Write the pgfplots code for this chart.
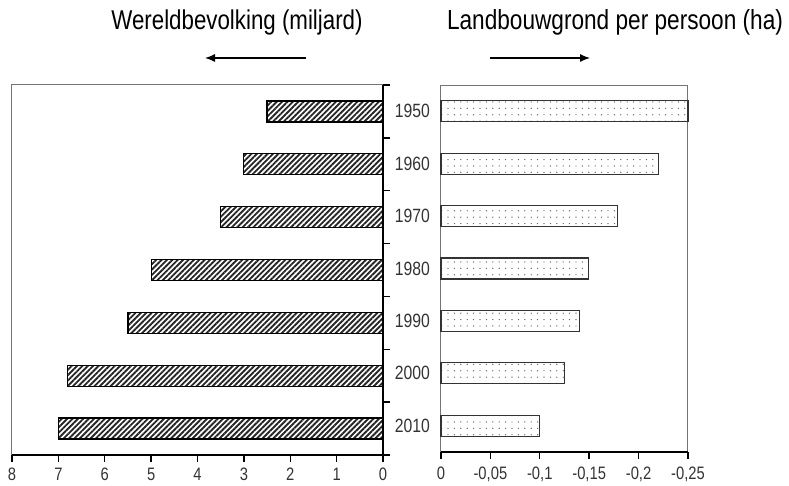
\documentclass[border=0pt]{standalone}
\usepackage{pgfplots}
\pgfplotsset{compat=1.18}
\usepackage{fontspec}
\setmainfont{Liberation Sans}[FakeStretch=0.82]
\usetikzlibrary{patterns.meta,arrows.meta}
\begin{document}
\begin{tikzpicture}[x=1pt,y=1pt]
\useasboundingbox (0,0) rectangle (394.5,243);
\pgfplotsset{
  common/.style={
    scale only axis, anchor=south west,
    axis line style={draw=black!55, line width=0.5pt},
    tick style={black, line width=0.7pt},
    tick align=outside, major tick length=3.5pt,
    ymin=-0.5, ymax=6.5, y dir=reverse,
    xtick pos=bottom,
    /pgf/number format/assume math mode=true,
    tick label style={font=\fontsize{9}{10}\selectfont, text=black!80},
    clip=false,
  }
}
% Left axis: Wereldbevolking
\begin{axis}[common, at={(6pt,15.5pt)}, width=185.5pt, height=185pt,
  x dir=reverse, xmin=0, xmax=8, xtick={0,1,...,8},
  ytick={-0.5,0.5,...,6.5}, yticklabels={}, ytick pos=right,
  xticklabel style={yshift=0.5pt}]
\addplot[xbar, bar width=10.5pt, draw=black, line width=0.6pt,
  pattern={Lines[angle=45, distance=1.9pt, line width=0.95pt]}, pattern color=black!85]
  coordinates {(2.5,0) (3,1) (3.5,2) (5,3) (5.5,4) (6.8,5) (7,6)};
\draw[black, line width=0.9pt] (rel axis cs:1,0) -- (rel axis cs:1,1);
\draw[black, line width=0.9pt] (rel axis cs:0,0) -- (rel axis cs:1,0);
\end{axis}
% Right axis: Landbouwgrond per persoon
\begin{axis}[common, at={(220.5pt,17pt)}, width=123.5pt, height=183.5pt,
  xmin=0, xmax=0.25, xtick={0,0.05,0.1,0.15,0.2,0.25},
  xticklabels={0,{-0,05},{-0,1},{-0,15},{-0,2},{-0,25}},
  xticklabel style={yshift=-0.5pt},
  ytick={0,...,6}, yticklabels={1950,1960,1970,1980,1990,2000,2010},
  ytick pos=left, ytick style={draw=none},
  yticklabel style={xshift=1.5pt, font=\fontsize{9.6}{11}\selectfont}]
\addplot[xbar, bar width=10.5pt, draw=black!80, line width=0.6pt,
  pattern={Dots[radius=0.35pt, distance=3.2pt]}, pattern color=black!60]
  coordinates {(0.25,0) (0.22,1) (0.179,2) (0.149,3) (0.14,4) (0.125,5) (0.1,6)};
\draw[black, line width=0.9pt] (rel axis cs:0,0) -- (rel axis cs:1,0);
\end{axis}
\node[font=\fontsize{13.6}{15}\selectfont] at (118.5,232) {Wereldbevolking (miljard)};
\node[font=\fontsize{13.8}{15}\selectfont] at (307.5,232) {Landbouwgrond per persoon (ha)};
\draw[line width=0.6pt, -{Latex[length=5pt,width=4pt]}] (153,214) -- (102.5,214);
\draw[line width=0.6pt, -{Latex[length=5pt,width=4pt]}] (245,214) -- (295,214);
\end{tikzpicture}
\end{document}
